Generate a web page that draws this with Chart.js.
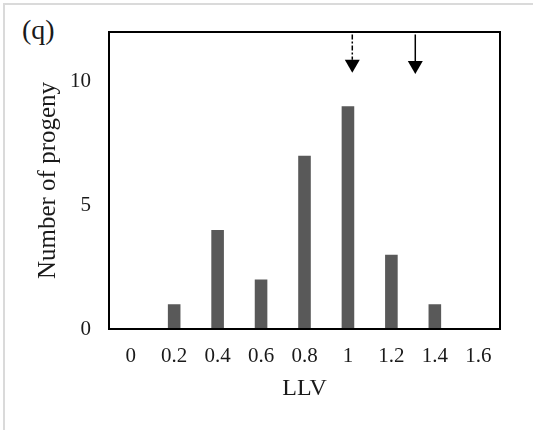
<!DOCTYPE html>
<html>
<head>
<meta charset="utf-8">
<script src="https://cdn.jsdelivr.net/npm/chart.js@4.4.0/dist/chart.umd.min.js"></script>
<style>
  html, body { margin: 0; padding: 0; background: #fff; }
  #wrap { position: relative; width: 533px; height: 430px; overflow: hidden; }
  #frame { position: absolute; left: 3px; top: 3px; width: 600px; height: 500px; border: 2px solid #dadada; }
  #panel { position: absolute; left: 22px; top: 14px; font-family: "Liberation Serif", serif; font-size: 28px; color: #1a1a1a; }
  canvas { position: absolute; left: 0; top: 0; }
</style>
</head>
<body>
<div id="wrap">
  <div id="frame"></div>
  <div id="panel">(q)</div>
  <canvas id="myChart" width="533" height="430"></canvas>
</div>
<script>
// LLV classes and number of progeny in each
const llvLabels = ['0', '0.2', '0.4', '0.6', '0.8', '1', '1.2', '1.4', '1.6'];
const progenyCounts = [0, 1, 4, 2, 7, 9, 3, 1, 0];
const yTicks = [0, 5, 10];

// arrows above the bars: LLV position, tip and tail heights (in progeny units)
const arrowLLV = [1.02, 1.31];
const arrowTip = [10.35, 10.3];
const arrowTail = [11.9, 11.9];
const arrowDashed = [true, false];

const serif = '"Liberation Serif", "Times New Roman", serif';

// draws the black box round the plot and the two arrows
const boxAndArrows = {
    id: 'boxAndArrows',
    afterDatasetsDraw(chart) {
        const { ctx, chartArea: a } = chart;
        const x = chart.scales.x;
        const y = chart.scales.y;
        const first = parseFloat(llvLabels[0]);
        const step = parseFloat(llvLabels[1]) - first;

        ctx.save();
        ctx.strokeStyle = '#000';
        ctx.lineWidth = 2;
        ctx.strokeRect(a.left, a.top, a.right - a.left, a.bottom - a.top);

        arrowLLV.forEach((v, i) => {
            const px = x.getPixelForValue((v - first) / step);
            const tip = y.getPixelForValue(arrowTip[i]);
            const tail = y.getPixelForValue(arrowTail[i]);
            const headH = 13, headW = 7.5;

            ctx.beginPath();
            ctx.lineWidth = 1.5;
            ctx.setLineDash(arrowDashed[i] ? [5, 2, 2, 2] : []);
            ctx.moveTo(px, tail);
            ctx.lineTo(px, tip - headH);
            ctx.stroke();

            ctx.setLineDash([]);
            ctx.beginPath();
            ctx.moveTo(px - headW, tip - headH);
            ctx.lineTo(px + headW, tip - headH);
            ctx.lineTo(px, tip);
            ctx.closePath();
            ctx.fillStyle = '#000';
            ctx.fill();
        });
        ctx.restore();
    }
};

const ctx = document.getElementById('myChart').getContext('2d');
const myChart = new Chart(ctx, {
    type: 'bar',
    data: {
        labels: llvLabels,
        datasets: [{
            data: progenyCounts,
            backgroundColor: '#595959',
            borderWidth: 0,
            categoryPercentage: 1,
            barPercentage: 0.29
        }]
    },
    options: {
        responsive: false,
        animation: false,
        layout: { padding: { left: 0, top: 32, right: 33, bottom: 0 } },
        plugins: {
            legend: { display: false },
            tooltip: { enabled: false }
        },
        scales: {
            x: {
                grid: { display: false, drawTicks: false },
                border: { display: false },
                ticks: {
                    color: '#1a1a1a',
                    padding: 15,
                    maxRotation: 0,
                    font: { family: serif, size: 21 }
                },
                title: {
                    display: true,
                    text: 'LLV',
                    color: '#1a1a1a',
                    padding: { top: 29, bottom: 29 },
                    font: { family: serif, size: 24, lineHeight: 1 }
                },
                afterFit(scale) { scale.height = 101; }
            },
            y: {
                min: 0,
                max: 12,
                grid: { display: false, drawTicks: false },
                border: { display: false },
                ticks: {
                    color: '#1a1a1a',
                    padding: 18,
                    font: { family: serif, size: 21 }
                },
                afterBuildTicks(scale) {
                    scale.ticks = yTicks.map(v => ({ value: v }));
                },
                title: {
                    display: true,
                    text: 'Number of progeny',
                    color: '#1a1a1a',
                    padding: { top: 36, bottom: 36 },
                    font: { family: serif, size: 25, lineHeight: 1 }
                },
                afterFit(scale) { scale.width = 109; }
            }
        }
    },
    plugins: [boxAndArrows]
});
</script>
</body>
</html>
